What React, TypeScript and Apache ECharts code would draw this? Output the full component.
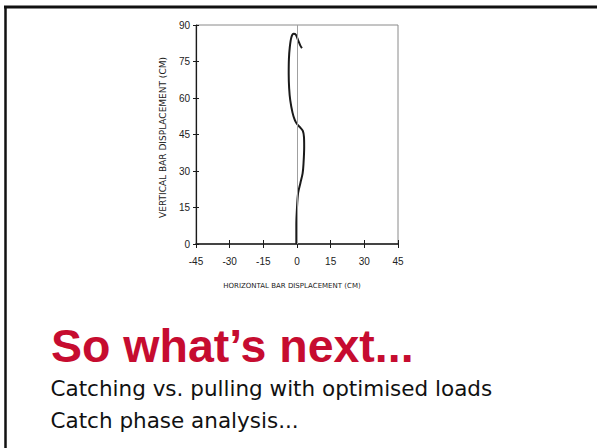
import React, { useEffect, useRef } from 'react';
import * as echarts from 'echarts';

// Axis ticks
const xTicks = [-45, -30, -15, 0, 15, 30, 45];
const yTicks = [0, 15, 30, 45, 60, 75, 90];

// Bar path: horizontal (cm) and vertical (cm) displacement
const pathX = [-0.3, -0.3, 0.0, 0.5, 1.5, 2.5, 2.9, 3.2, 3.1, 2.6, 1.3, 0.0, -1.0, -2.0, -3.0, -3.5, -3.7, -3.6, -3.2, -2.5, -1.5, -0.5, 0.6, 1.5, 2.2];
const pathY = [0, 8, 15, 21, 25, 29, 33, 40, 44, 46.5, 48, 49.3, 51, 54, 59, 64, 70, 76, 81, 85, 86.4, 86, 83.5, 81.5, 80.5];

const xAxisName = 'HORIZONTAL BAR DISPLACEMENT (CM)';
const yAxisName = 'VERTICAL BAR DISPLACEMENT (CM)';
const titleText = 'So what\u2019s next...';
const bullets = ['Catching vs. pulling with optimised loads', 'Catch phase analysis...'];

export default function App() {
  const ref = useRef<HTMLDivElement>(null);

  useEffect(() => {
    if (!ref.current) return;
    const chart = echarts.init(ref.current, undefined, { renderer: 'svg' });
    const step = xTicks[1] - xTicks[0];
    const ystep = yTicks[1] - yTicks[0];
    const dark = '#1a1a1a';
    const xBase = {
      type: 'value' as const,
      min: xTicks[0],
      max: xTicks[xTicks.length - 1],
      interval: step,
      position: 'bottom' as const,
      splitLine: { show: false },
    };
    const yBase = {
      type: 'value' as const,
      min: yTicks[0],
      max: yTicks[yTicks.length - 1],
      interval: ystep,
      position: 'left' as const,
      splitLine: { show: false },
    };
    chart.setOption({
      animation: false,
      backgroundColor: '#ffffff',
      grid: {
        left: 196,
        right: 199,
        top: 25,
        bottom: 204,
        show: true,
        borderColor: '#8a8a8a',
        borderWidth: 1,
      },
      xAxis: [
        {
          ...xBase,
          axisLine: { show: true, onZero: false, lineStyle: { color: dark, width: 1.5 } },
          axisTick: { show: true, inside: false, length: 4, lineStyle: { color: dark } },
          axisLabel: { margin: 12, fontSize: 10, color: '#222', fontFamily: 'Liberation Sans' },
        },
        {
          ...xBase,
          axisLine: { show: false, onZero: false },
          axisTick: { show: true, inside: true, length: 4, lineStyle: { color: dark } },
          axisLabel: { show: false },
        },
      ],
      yAxis: [
        {
          ...yBase,
          axisLine: { show: true, onZero: false, lineStyle: { color: dark, width: 1.2 } },
          axisTick: { show: true, inside: false, length: 3, lineStyle: { color: dark } },
          axisLabel: { margin: 6, fontSize: 10, color: '#222', fontFamily: 'Liberation Sans' },
        },
        {
          ...yBase,
          axisLine: { show: false, onZero: false },
          axisTick: { show: true, inside: true, length: 3, lineStyle: { color: dark } },
          axisLabel: { show: false },
        },
      ],
      series: [
        {
          type: 'line',
          xAxisIndex: 0,
          yAxisIndex: 0,
          data: pathX.map((x, i) => [x, pathY[i]]),
          smooth: 0.3,
          showSymbol: false,
          lineStyle: { color: dark, width: 2 },
          markLine: {
            silent: true,
            symbol: ['none', 'none'],
            label: { show: false },
            lineStyle: { color: '#a0a0a0', type: 'solid', width: 1 },
            data: [{ xAxis: 0 }],
          },
        },
      ],
      graphic: [
        { type: 'line', shape: { x1: 4, y1: 7, x2: 597, y2: 7 }, style: { stroke: '#111', lineWidth: 3 } },
        { type: 'line', shape: { x1: 5.5, y1: 6, x2: 5.5, y2: 448 }, style: { stroke: '#111', lineWidth: 2.5 } },
        {
          type: 'text',
          x: 163,
          y: 137.5,
          rotation: Math.PI / 2,
          style: {
            text: yAxisName,
            fontSize: 9,
            fontFamily: 'DejaVu Sans',
            fill: '#222',
            align: 'center',
            verticalAlign: 'middle',
          },
        },
        {
          type: 'text',
          x: 292,
          y: 286,
          style: {
            text: xAxisName,
            fontSize: 7,
            fontFamily: 'DejaVu Sans',
            fill: '#222',
            align: 'center',
            verticalAlign: 'middle',
          },
        },
        {
          type: 'text',
          x: 51,
          y: 345.5,
          style: {
            text: titleText,
            fontSize: 46.5,
            fontWeight: 'bold',
            fontFamily: 'Liberation Sans',
            fill: '#C60C30',
            align: 'left',
            verticalAlign: 'middle',
          },
        },
        ...bullets.map((b, i) => ({
          type: 'text',
          x: 50.5,
          y: 388.5 + i * 31.5,
          style: {
            text: b,
            fontSize: 21.5,
            fontFamily: 'DejaVu Sans',
            fill: '#111',
            align: 'left',
            verticalAlign: 'middle',
          },
        })),
      ],
    });
    return () => chart.dispose();
  }, []);

  return (
    <div
      ref={ref}
      style={{ position: 'absolute', left: 0, top: 0, width: 597, height: 448 }}
    />
  );
}
